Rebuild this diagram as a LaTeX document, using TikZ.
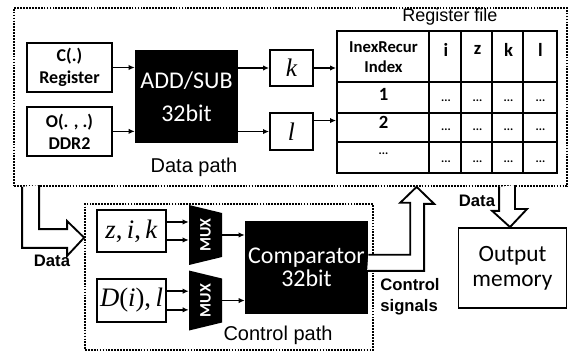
\documentclass[tikz,border=0pt]{standalone}
\usepackage{fontspec}
\setmainfont{Liberation Sans}
\newfontfamily\carlito{Carlito}
\newfontfamily\timesfont{Liberation Serif}
\usepackage{tikz}
\usetikzlibrary{arrows.meta, positioning, fit, calc}

\begin{document}
\begin{tikzpicture}[
    x=0.75pt, y=-0.75pt,
    region/.style={draw, line width=1.3pt, dash pattern=on 1.3pt off 0.9pt, inner sep=0pt},
    plainbox/.style={rectangle, draw, line width=1.4pt, fill=white, align=center, inner sep=1pt},
    srcbox/.style={plainbox, minimum width=63.75pt, minimum height=36.75pt,
                font=\carlito\bfseries\fontsize{13.5}{16.5}\selectfont},
    varbox/.style={plainbox, minimum width=32.25pt, minimum height=27.5pt,
                font=\timesfont\itshape\fontsize{19}{22}\selectfont},
    inbox/.style={plainbox, minimum width=51.75pt, minimum height=32pt,
                font=\timesfont\fontsize{20}{22}\selectfont},
    unit/.style={rectangle, fill=black, text=white, align=center, inner sep=0pt},
    mux/.style={rectangle, minimum width=24.75pt, minimum height=45pt, inner sep=0pt,
                text=white, font=\carlito\bfseries\fontsize{12}{12}\selectfont,
                path picture={\fill[black] (path picture bounding box.north west)
                  -- ([yshift=-6pt]path picture bounding box.north east)
                  -- ([yshift=6pt]path picture bounding box.south east)
                  -- (path picture bounding box.south west) -- cycle;}},
    tag/.style={font=\fontsize{15}{18}\selectfont},
    note/.style={font=\bfseries\fontsize{12.5}{15.75}\selectfont, align=left},
    cell/.style={font=\carlito\bfseries\fontsize{14}{15}\selectfont, align=center},
    dots/.style={font=\carlito\bfseries\fontsize{9}{9}\selectfont},
    grid/.style={line width=1.4pt},
    arrow/.style={-{Latex[length=4.5pt, width=4pt]}, line width=1.1pt},
    hollow/.style={draw, line width=1.4pt, fill=white, line join=miter}
]
\useasboundingbox (0,0) rectangle (569,352);

% data path
\node[region, fit={(14,8) (567,186)}] (datapath) {};
\node[tag, font=\fontsize{13.5}{16}\selectfont] (rftitle) at (450,17) {Register file};
\node[tag] (dptitle) at (194,167) {Data path};

\node[srcbox] (creg) at (69.5,67.5) {C(.)\\Register};
\node[srcbox, below=9.75pt of creg] (oddr) {O(. , .)\\DDR2};
\node[unit, minimum width=77.25pt, minimum height=69.75pt,
      font=\carlito\fontsize{18}{25}\selectfont] (addsub) at (186.5,96.5) {ADD/SUB\\32bit};
\node[varbox] (kbox) at (291.5,68) {k};
\node[varbox, below=18.75pt of kbox] (lbox) {l};

% register file table
\node[draw, line width=1.4pt, minimum width=165pt, minimum height=106.5pt,
      inner sep=0pt] (regfile) at (447,102) {};
\draw[grid] ($(regfile.north west)+(0,52)$) -- ++(220,0);
\draw[grid] ($(regfile.north west)+(0,83)$) -- ++(220,0);
\draw[grid] ($(regfile.north west)+(0,112)$) -- ++(220,0);
\draw[grid] ($(regfile.north west)+(93,0)$) -- ++(0,142);
\draw[grid] ($(regfile.north west)+(125,0)$) -- ++(0,142);
\draw[grid] ($(regfile.north west)+(156,0)$) -- ++(0,142);
\draw[grid] ($(regfile.north west)+(187,0)$) -- ++(0,142);

\node[cell, font=\carlito\bfseries\fontsize{12.5}{15}\selectfont] (hidx) at (383.5,57) {InexRecur\\Index};
\node[cell] (hi) at (446,50) {i};
\node[cell] (hz) at (477.5,50) {z};
\node[cell] (hk) at (508.5,50) {k};
\node[cell] (hl) at (540.5,50) {l};
\node[cell] (ra) at (383.5,94) {1};
\node[dots] (ra1) at (446,101) {...};
\node[dots] (ra2) at (477.5,101) {...};
\node[dots] (ra3) at (508.5,101) {...};
\node[dots] (ra4) at (540.5,101) {...};
\node[cell] (rb) at (383.5,122) {2};
\node[dots] (rb1) at (446,130) {...};
\node[dots] (rb2) at (477.5,130) {...};
\node[dots] (rb3) at (508.5,130) {...};
\node[dots] (rb4) at (540.5,130) {...};
\node[dots] (rc) at (383.5,154) {...};
\node[dots] (rc1) at (446,162) {...};
\node[dots] (rc2) at (477.5,162) {...};
\node[dots] (rc3) at (508.5,162) {...};
\node[dots] (rc4) at (540.5,162) {...};

\draw[arrow] (creg.east) -- (creg.east -| addsub.west);
\draw[arrow] (oddr.east) -- (oddr.east -| addsub.west);
\draw[arrow] (addsub.east |- kbox) -- (kbox.west);
\draw[arrow] (addsub.east |- lbox) -- (lbox.west);
\draw[arrow] (kbox.east) -- (kbox.east -| regfile.west);
\draw[arrow] ([yshift=8.25pt]lbox.east) -- ([yshift=8.25pt]lbox.east -| regfile.west);

% control path
\node[region, fit={(85,204) (373,350)}] (ctrlpath) {};
\node[tag] (cptitle) at (278,335) {Control path};

\node[inbox] (zik) at (131.5,231) {\textit{z},\,\textit{i},\,\textit{k}};
\node[inbox, below=18.75pt of zik] (dil) {\textit{D}(\textit{i}),\,\textit{l}};
\node[mux] (mux1) at (205.5,235) {\rotatebox{90}{MUX}};
\node[mux, below=3.75pt of mux1] (mux2) {\rotatebox{90}{MUX}};
\node[unit, minimum width=92.25pt, minimum height=69.75pt,
      font=\carlito\fontsize{18}{17}\selectfont] (comp) at (306.5,267.5) {Comparator\\32bit};

\draw[arrow] ([yshift=6.75pt]zik.east) -- ([yshift=6.75pt]zik.east -| mux1.west);
\draw[arrow] ([yshift=-6.75pt]zik.east) -- ([yshift=-6.75pt]zik.east -| mux1.west);
\draw[arrow] ([yshift=7pt]dil.east) -- ([yshift=7pt]dil.east -| mux2.west);
\draw[arrow] ([yshift=-7pt]dil.east) -- ([yshift=-7pt]dil.east -| mux2.west);
\draw[arrow] (mux1.east) -- (mux1.east -| comp.west);
\draw[arrow] (mux2.east) -- (mux2.east -| comp.west);

% output side
\node[plainbox, minimum width=81pt, minimum height=60pt,
      font=\carlito\fontsize{17.5}{19}\selectfont] (outmem) at (512.5,268) {Output\\memory};

% hollow arrows
\draw[hollow] ($(datapath.south west)+(9,0)$) -- ++(0,61) -- ++(45,0) -- ++(0,8)
    -- ($(ctrlpath.north west)+(0,34.5)$) -- ++(-17,-16.5) -- ++(0,8) -- ++(-28,0) -- ++(0,-44);
\draw[hollow] ($(comp.north east)+(0,34)$) -- ++(42,0) -- ++(0,-52) -- ++(-10,0)
    -- ($(datapath.south west)+(403.5,0)$) -- ++(17.5,17) -- ++(-10,0) -- ++(0,67) -- ++(-57,0);
\draw[hollow] ($(datapath.south west)+(486,0)$) -- ++(0,24) -- ++(-7,0)
    -- ($(outmem.north)+(-2.5,0)$) -- ++(17,-18) -- ++(-12,0) -- ++(0,-24);

\node[note] (dleft) at (52,261) {Data};
\node[note] (dright) at (477,201) {Data};
\node[note] (csig) at (410,297) {Control\\signals};

\end{tikzpicture}
\end{document}
